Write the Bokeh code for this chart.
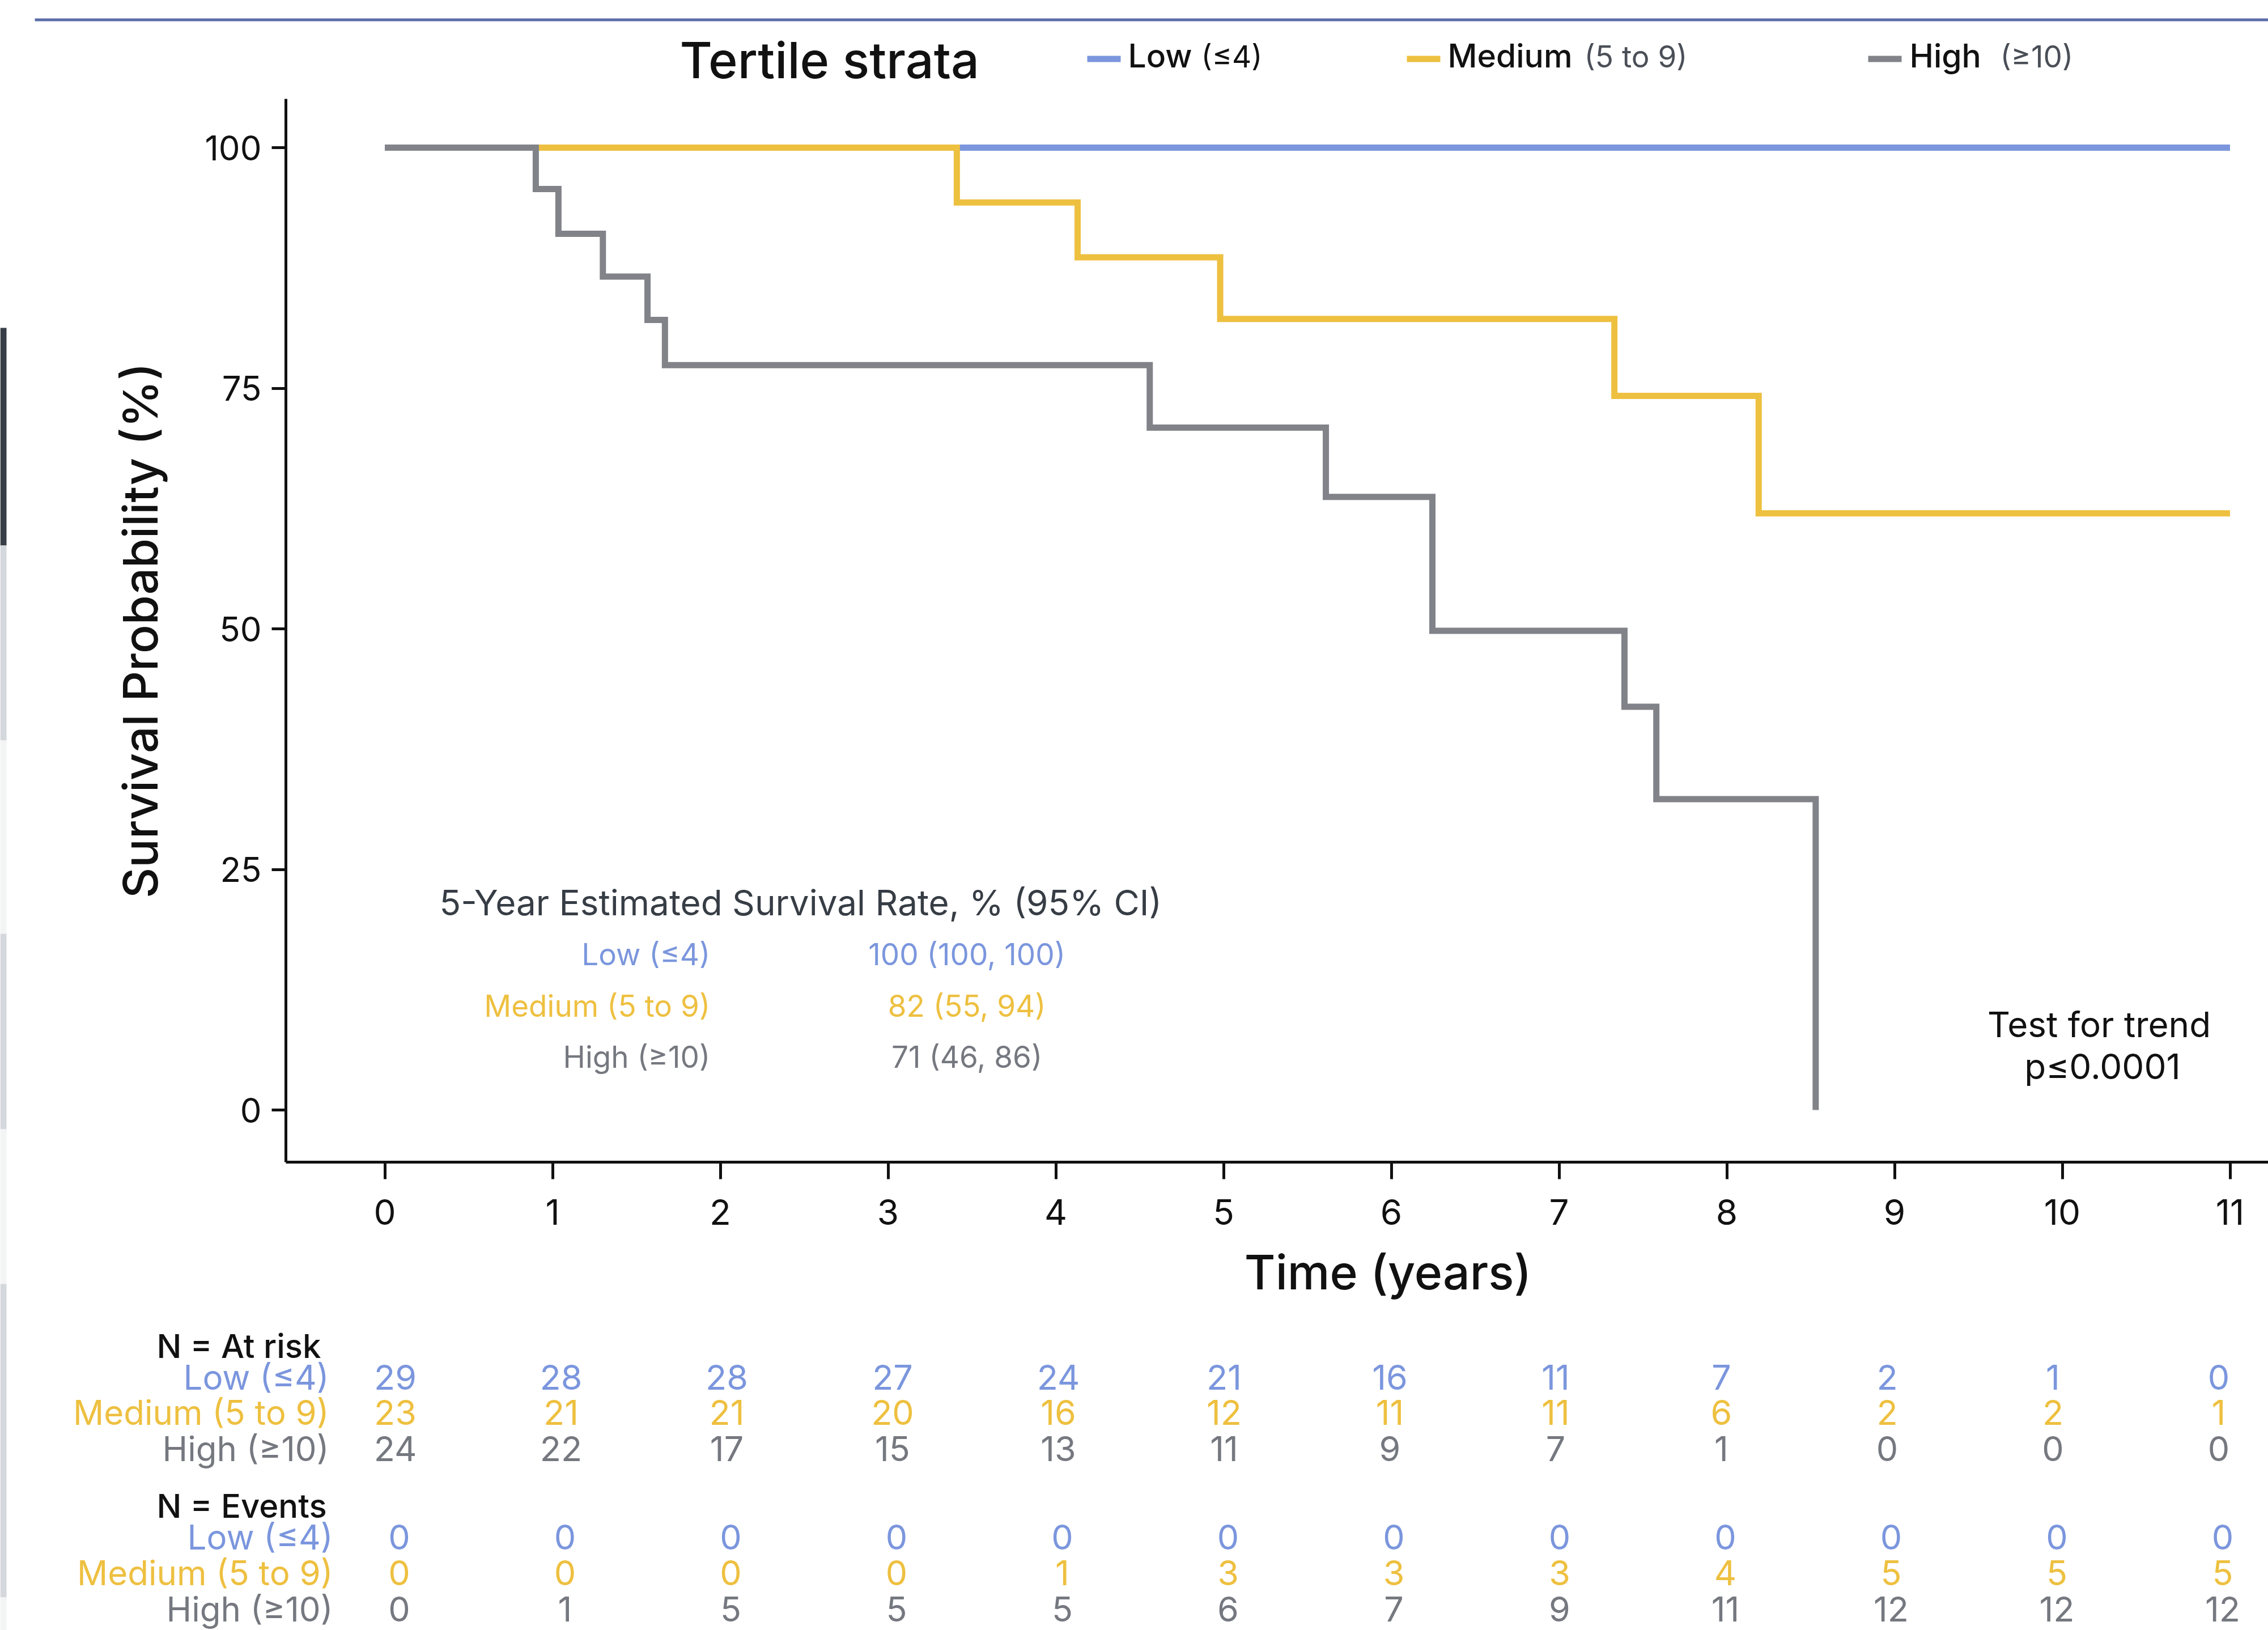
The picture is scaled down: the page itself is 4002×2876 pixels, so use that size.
from bokeh.plotting import figure
from bokeh.models import Range1d, FixedTicker, LinearAxis
from bokeh.embed import file_html
from bokeh.resources import INLINE
from bokeh.core.properties import value

# ---------------- data ----------------
series_names = ["Low", "Medium", "High"]
series_ranges = ["(≤4)", "(5 to 9)", "(≥10)"]
series_colors = ["#7B96DD", "#EEC040", "#818389"]

low_t = [0, 11.0]
low_s = [100, 100]
med_t = [0, 3.41, 4.13, 4.98, 7.33, 8.19, 11.0]
med_s = [100, 94.3, 88.6, 82.2, 74.2, 62.0, 62.0]
high_t = [0, 0.90, 1.035, 1.30, 1.566, 1.67, 4.56, 5.61, 6.245, 7.39, 7.58, 8.53]
high_s = [100, 95.7, 91.05, 86.6, 82.1, 77.4, 70.9, 63.7, 49.8, 41.9, 32.3, 0]

years = [0, 1, 2, 3, 4, 5, 6, 7, 8, 9, 10, 11]
at_risk_low = [29, 28, 28, 27, 24, 21, 16, 11, 7, 2, 1, 0]
at_risk_med = [23, 21, 21, 20, 16, 12, 11, 11, 6, 2, 2, 1]
at_risk_high = [24, 22, 17, 15, 13, 11, 9, 7, 1, 0, 0, 0]
events_low = [0, 0, 0, 0, 0, 0, 0, 0, 0, 0, 0, 0]
events_med = [0, 0, 0, 0, 1, 3, 3, 3, 4, 5, 5, 5]
events_high = [0, 1, 5, 5, 5, 6, 7, 9, 11, 12, 12, 12]

five_year_title = "5-Year Estimated Survival Rate, % (95% CI)"
five_year_values = ["100 (100, 100)", "82 (55, 94)", "71 (46, 86)"]
trend_text = ["Test for trend", "p≤0.0001"]

x_ticks = [0, 1, 2, 3, 4, 5, 6, 7, 8, 9, 10, 11]
y_ticks = [0, 25, 50, 75, 100]

# ---------------- layout constants (page pixels) ----------------
FONT = value("Inter")
FONT_M = value("Inter Medium, Inter")
INK = "#111111"
W, H = 4002, 2876
X0, XS = 678.5, 296.0      # px of year 0, px per year (plot)
Y0, YS = 1958.0, 16.98     # px of 0 %, px per % point
TX0, TXS = 700.0, 292.5    # table columns
label_colors = ["#7B96DD", "#EEC040", "#75787F"]


def yo(fs):
    """Screen offset that puts the alphabetic baseline on the given y."""
    return -round(0.345 * fs)


p = figure(width=W, height=H, output_backend="svg", toolbar_location=None,
           x_range=Range1d(-X0 / XS, (W - X0) / XS),
           y_range=Range1d(-(H - Y0) / YS, Y0 / YS),
           x_axis_type=None, y_axis_type=None, min_border=0)
p.outline_line_color = None
p.background_fill_color = "white"
p.border_fill_color = "white"
p.extra_x_ranges = {"px": Range1d(0, W), "tab": Range1d(-TX0 / TXS, (W - TX0) / TXS)}
p.extra_y_ranges = {"px": Range1d(H, 0)}

# page side strip (part of the captured page)
strip_y0 = [578, 962, 1306, 1647, 1992, 2265, 2818]
strip_y1 = [962, 1306, 1647, 1992, 2265, 2818, 2876]
strip_c = ["#373E47", "#D4D7DC", "#F3F4F4", "#D4D7DC", "#F3F4F4", "#D4D7DC", "#F3F4F4"]
p.quad(left=[0] * 7, right=[11] * 7, top=strip_y0, bottom=strip_y1, fill_color=strip_c,
       line_color=None, x_range_name="px", y_range_name="px")

# ---------------- axes ----------------
x_lo, y_lo, y_hi = -0.5895, -5.418, 105.07
xaxis = LinearAxis(fixed_location=y_lo, bounds=(x_lo, (W - X0) / XS),
                   ticker=FixedTicker(ticks=x_ticks))
yaxis = LinearAxis(fixed_location=x_lo, bounds=(y_lo, y_hi),
                   ticker=FixedTicker(ticks=y_ticks))
for ax, tout in ((xaxis, 30), (yaxis, 25)):
    ax.axis_line_width = 5
    ax.axis_line_color = INK
    ax.major_tick_line_width = 5
    ax.major_tick_line_color = INK
    ax.major_tick_out = tout
    ax.major_tick_in = 0
    ax.minor_tick_line_color = None
    ax.major_label_text_font = "Inter"
    ax.major_label_text_color = INK
xaxis.major_label_text_font_size = "62px"
xaxis.major_label_standoff = 36
yaxis.major_label_text_font_size = "60px"
yaxis.major_label_standoff = 18
yaxis.axis_label = "Survival Probability (%)"
yaxis.axis_label_text_font = "Inter Medium, Inter"
yaxis.axis_label_text_font_size = "84px"
yaxis.axis_label_text_font_style = "normal"
yaxis.axis_label_text_color = INK
yaxis.axis_label_standoff = 60
p.add_layout(xaxis, "below")
p.add_layout(yaxis, "left")

# ---------------- curves ----------------
for t, s, c in ((low_t, low_s, series_colors[0]), (med_t, med_s, series_colors[1]),
                (high_t, high_s, series_colors[2])):
    p.step(x=t, y=s, mode="after", line_color=c, line_width=11, line_join="miter")

# ---------------- in-plot annotations ----------------
p.text(x=[0.326], y=[20.3], text=[five_year_title], text_font=FONT, text_font_size="62px",
       text_color="#373D45", text_baseline="alphabetic", y_offset=yo(62))
row_y = [15.08, 9.72, 4.42]
row_labels = [n + " " + r for n, r in zip(series_names, series_ranges)]
p.text(x=[1.94] * 3, y=row_y, text=row_labels, text_font=FONT, text_font_size="53px",
       text_color=label_colors, text_align="right", text_baseline="alphabetic",
       y_offset=yo(53))
p.text(x=[3.47] * 3, y=row_y, text=five_year_values, text_font=FONT, text_font_size="53px",
       text_color=label_colors, text_align="center", text_baseline="alphabetic",
       y_offset=yo(53))
p.text(x=[10.22, 10.24], y=[7.66, 3.30], text=trend_text, text_font=FONT,
       text_font_size="62px", text_color=INK, text_align="center", text_baseline="alphabetic",
       y_offset=yo(62))
p.text(x=[5.98], y=[2273], y_range_name="px", text=["Time (years)"], text_font=FONT_M,
       text_font_size="84px", text_color=INK, text_align="center", text_baseline="alphabetic",
       y_offset=yo(84))

# ---------------- header (title + legend) ----------------
p.segment(x0=[61], y0=[34.5], x1=[W], y1=[34.5], x_range_name="px", y_range_name="px",
          line_color="#5B6EA8", line_width=5)
p.text(x=[1199], y=[135], text=["Tertile strata"], x_range_name="px", y_range_name="px",
       text_font=FONT_M, text_font_size="88px", text_color=INK, text_baseline="alphabetic",
       y_offset=yo(88))
mk_x = [1918, 2482, 3296]
name_x = [1990, 2554, 3369]
rng_x = [2119, 2795, 3529]
rng_col = [INK, "#4A4F57", "#4A4F57"]
p.segment(x0=mk_x, y0=[103.5] * 3, x1=[v + 59 for v in mk_x], y1=[103.5] * 3,
          x_range_name="px", y_range_name="px", line_color=series_colors, line_width=11)
p.text(x=name_x, y=[118] * 3, text=series_names, x_range_name="px", y_range_name="px",
       text_font=FONT_M, text_font_size="57px", text_color=INK, text_baseline="alphabetic",
       y_offset=yo(57))
p.text(x=rng_x, y=[118] * 3, text=series_ranges, x_range_name="px", y_range_name="px",
       text_font=FONT, text_font_size="53px", text_color=rng_col, text_baseline="alphabetic",
       y_offset=yo(55))

# ---------------- risk tables ----------------
p.text(x=[-1.4496, -1.4496], y=[2394.5, 2676], text=["N = At risk", "N = Events"],
       x_range_name="tab", y_range_name="px", text_font=FONT_M, text_font_size="58px",
       text_color=INK, text_baseline="alphabetic", y_offset=yo(58))
p.text(x=[-0.41] * 3, y=[2450, 2512.5, 2576], text=row_labels, x_range_name="tab",
       y_range_name="px", text_font=FONT, text_font_size="60px", text_color=label_colors,
       text_align="right", text_baseline="alphabetic", y_offset=yo(60))
p.text(x=[-0.386] * 3, y=[2732, 2795, 2859], text=row_labels, x_range_name="tab",
       y_range_name="px", text_font=FONT, text_font_size="60px", text_color=label_colors,
       text_align="right", text_baseline="alphabetic", y_offset=yo(60))
for vals, yy, col, dx in ((at_risk_low, 2450, series_colors[0], -3),
                          (at_risk_med, 2512.5, series_colors[1], -3),
                          (at_risk_high, 2576, label_colors[2], -3),
                          (events_low, 2732, series_colors[0], 4),
                          (events_med, 2795, series_colors[1], 4),
                          (events_high, 2859, label_colors[2], 4)):
    p.text(x=years, y=[yy] * len(years), text=[str(v) for v in vals], x_range_name="tab",
           y_range_name="px", text_font=FONT, text_font_size="61px", text_color=col,
           text_align="center", text_baseline="alphabetic", x_offset=dx, y_offset=yo(61))

open("out.html", "w").write(file_html(p, INLINE))
